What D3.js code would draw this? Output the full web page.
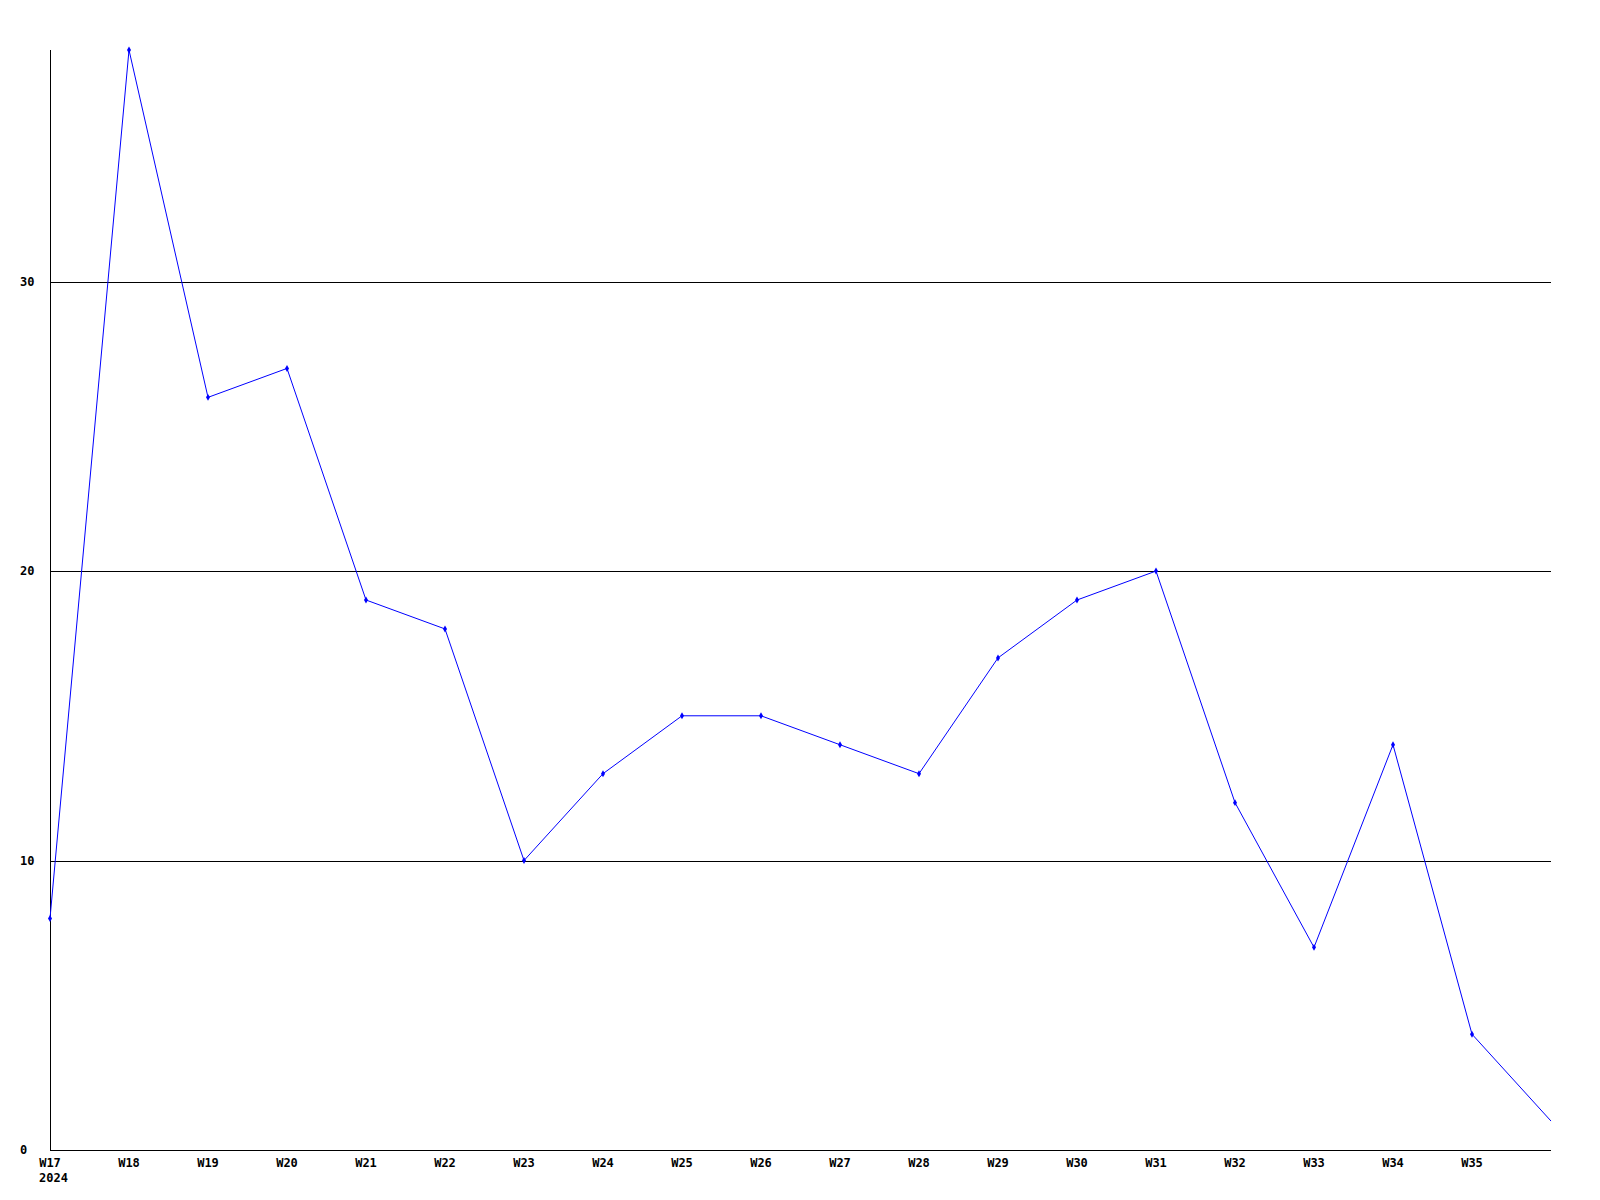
<!DOCTYPE html>
<html lang="en">
<head>
<meta charset="UTF-8">
<title>Weekly</title>
<script src="https://d3js.org/d3.v7.min.js"></script>
<style>
  body { margin: 0; background: #fff; }
  text { font-family: "DejaVu Sans Mono", monospace; font-weight: bold; font-size: 12px; fill: #000; }
</style>
</head>
<body>
<svg width="1600" height="1200"></svg>
<script>
// weekly counts, W17..W36 (2024)
var weeks = ["W17","W18","W19","W20","W21","W22","W23","W24","W25","W26","W27","W28","W29","W30","W31","W32","W33","W34","W35","W36"]
var values = [8, 38, 26, 27, 19, 18, 10, 13, 15, 15, 14, 13, 17, 19, 20, 12, 7, 14, 4, 1]
var weekLabels = weeks.slice(0, 19)
var yTicks = [0, 10, 20, 30]
var year = "2024"

var svg = d3.select("svg")
var plotLeft = 50, plotRight = 1551, plotTop = 50, plotBottom = 1150

var x = d3.scalePoint().domain(weeks).range([plotLeft, plotRight])
var y = d3.scaleLinear().domain([0, 38]).range([plotBottom, plotTop])

// gridlines
svg.append("g").selectAll("line").data(yTicks.filter(d => d > 0)).enter().append("line")
  .attr("x1", plotLeft).attr("x2", plotRight)
  .attr("y1", d => Math.round(y(d)) + 0.5).attr("y2", d => Math.round(y(d)) + 0.5)
  .attr("stroke", "#000").attr("stroke-width", 1)

// axes
svg.append("line").attr("x1", plotLeft + 0.5).attr("x2", plotLeft + 0.5).attr("y1", plotTop).attr("y2", plotBottom)
  .attr("stroke", "#000")
svg.append("line").attr("x1", plotLeft).attr("x2", plotRight).attr("y1", plotBottom + 0.5).attr("y2", plotBottom + 0.5)
  .attr("stroke", "#000")

// y labels
svg.append("g").selectAll("text").data(yTicks).enter().append("text")
  .attr("x", 20).attr("y", d => y(d)).attr("dy", "0.35em")
  .text(d => d)

// x labels
svg.append("g").selectAll("text").data(weekLabels).enter().append("text")
  .attr("x", d => x(d)).attr("y", 1163).attr("dy", "0.35em")
  .attr("text-anchor", "middle")
  .text(d => d)
svg.append("text").attr("x", 39).attr("y", 1178).attr("dy", "0.35em").text(year)

// line
var pts = weeks.map((w, i) => [x(w), y(values[i])])
svg.append("path").datum(pts)
  .attr("d", d3.line())
  .attr("fill", "none").attr("stroke", "#0000ff").attr("stroke-width", 1)

// markers
svg.append("g").selectAll("path").data(pts.slice(0, 19)).enter().append("path")
  .attr("transform", d => "translate(" + d[0] + "," + d[1] + ")")
  .attr("d", d3.symbol(d3.symbolDiamond, 14))
  .attr("fill", "#0000ff")
</script>
</body>
</html>
